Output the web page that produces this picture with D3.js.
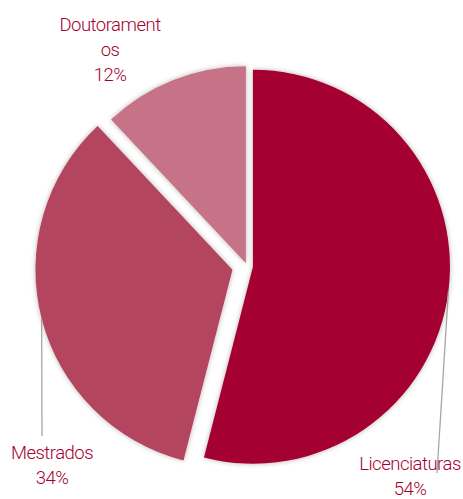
<!DOCTYPE html>
<html>
<head>
<meta charset="utf-8">
<script src="https://cdn.jsdelivr.net/npm/d3@7"></script>
<style>
  html, body { margin: 0; padding: 0; background: #fff; }
  svg { display: block; }
</style>
</head>
<body>
<svg id="chart" width="463" height="499"></svg>
<script>
// data
var categories = ["Licenciaturas", "Mestrados", "Doutoramentos"];
var values = [54, 34, 12];
var labelText = [["Licenciaturas", "54%"], ["Mestrados", "34%"], ["Doutorament", "os", "12%"]];

// layout / style
var width = 463, height = 499;
var cx = 247, cy = 266, radius = 197;
var explode = [6, 15, 3];
var colors = ["#A50030", "#B4445F", "#C67387"];
var labelPos = [[410, 470], [52, 459], [110, 31]];   // first baseline, text centre
var leaderEnd = [[437, 473], [42, 436], null];
var lineH = 25;

var svg = d3.select("#chart");

var defs = svg.append("defs");
var f = defs.append("filter").attr("id", "shadow")
    .attr("x", "-20%").attr("y", "-20%").attr("width", "140%").attr("height", "140%");
f.append("feDropShadow")
    .attr("dx", 0).attr("dy", 0)
    .attr("stdDeviation", 2.5)
    .attr("flood-color", "#000")
    .attr("flood-opacity", 0.3);

var pie = d3.pie().sort(null).value(d => d);
var arcs = pie(values);
var arc = d3.arc().innerRadius(0).outerRadius(radius);

// offset of each slice along its mid angle
function shift(d, i) {
    var a = (d.startAngle + d.endAngle) / 2;
    return [cx + explode[i] * Math.sin(a), cy - explode[i] * Math.cos(a)];
}

var g = svg.append("g");
g.selectAll("path")
    .data(arcs)
    .join("path")
    .attr("transform", (d, i) => "translate(" + shift(d, i) + ")")
    .attr("d", arc)
    .attr("fill", (d, i) => colors[i])
    .attr("filter", "url(#shadow)");

// leader lines from the arc at mid angle
arcs.forEach(function (d, i) {
    if (!leaderEnd[i]) return;
    var c = shift(d, i);
    var a = (d.startAngle + d.endAngle) / 2;
    svg.append("line")
        .attr("x1", c[0] + radius * Math.sin(a))
        .attr("y1", c[1] - radius * Math.cos(a))
        .attr("x2", leaderEnd[i][0])
        .attr("y2", leaderEnd[i][1])
        .attr("stroke", "#A6A6A6")
        .attr("stroke-width", 1.3);
});

// labels
var labels = svg.append("g")
    .attr("font-family", "Roboto, 'Liberation Sans', sans-serif")
    .attr("font-size", 18.5)
    .attr("font-weight", 300)
    .attr("letter-spacing", -0.5)
    .attr("fill", "#A50030")
    .attr("text-anchor", "middle");

labelText.forEach(function (lines, i) {
    var t = labels.append("text")
        .attr("x", labelPos[i][0])
        .attr("y", labelPos[i][1]);
    lines.forEach(function (s, j) {
        t.append("tspan")
            .attr("x", labelPos[i][0])
            .attr("y", labelPos[i][1] + j * lineH)
            .text(s);
    });
});
</script>
</body>
</html>
